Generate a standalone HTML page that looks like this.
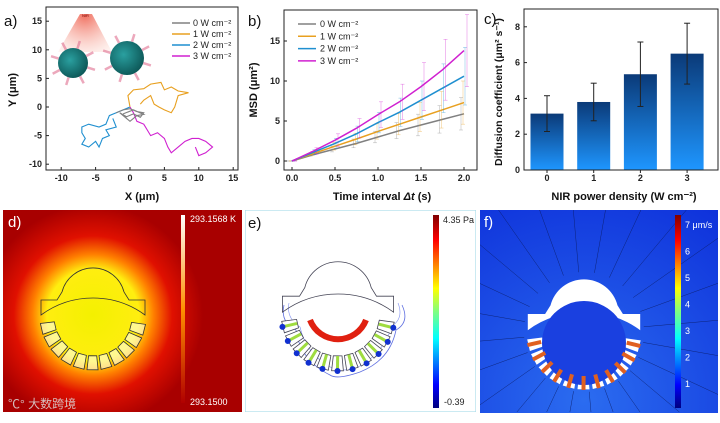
<!DOCTYPE html>
<html><head><meta charset="utf-8"><style>
html,body{margin:0;background:#fff;width:720px;height:423px;overflow:hidden}
svg{display:block;overflow:hidden;font-family:"Liberation Sans","Noto Sans CJK SC",sans-serif}
.tk{font-size:9px;font-weight:bold;fill:#222}
.al{font-size:11px;font-weight:bold;fill:#111}
.pl{font-size:15px;fill:#111}
.lg{font-size:9px;fill:#222}
</style></head><body>
<svg id="fig" width="720" height="423" viewBox="0 0 720 423">
<defs>
<clipPath id="clipD"><rect x="3" y="210" width="239" height="202"/></clipPath>
<clipPath id="clipE"><rect x="245" y="210" width="231" height="202"/></clipPath>
<clipPath id="clipF"><rect x="480" y="210" width="238" height="203"/></clipPath>
<linearGradient id="barg" x1="0" y1="0" x2="0" y2="1"><stop offset="0" stop-color="#0b3a78"/><stop offset="1" stop-color="#1e96ff"/></linearGradient>
<radialGradient id="heat" cx="93" cy="315" r="110" gradientUnits="userSpaceOnUse"><stop offset="0" stop-color="#f4f000"/><stop offset="0.42" stop-color="#ffee10"/><stop offset="0.55" stop-color="#ff8000"/><stop offset="0.72" stop-color="#e01000"/><stop offset="1" stop-color="#a80000"/></radialGradient>
<linearGradient id="tbar" x1="0" y1="1" x2="0" y2="0"><stop offset="0" stop-color="#b00000"/><stop offset="0.5" stop-color="#ff9000"/><stop offset="1" stop-color="#ffffff"/></linearGradient>
<linearGradient id="jet" x1="0" y1="1" x2="0" y2="0"><stop offset="0" stop-color="#00007f"/><stop offset="0.12" stop-color="#0000ff"/><stop offset="0.36" stop-color="#00ffff"/><stop offset="0.5" stop-color="#80ff80"/><stop offset="0.62" stop-color="#ffff00"/><stop offset="0.87" stop-color="#ff0000"/><stop offset="1" stop-color="#7f0000"/></linearGradient>
<radialGradient id="fbg" cx="584" cy="400" r="260" gradientUnits="userSpaceOnUse"><stop offset="0" stop-color="#2b6cf0"/><stop offset="1" stop-color="#0b2ad8"/></radialGradient>
<radialGradient id="cone" cx="85" cy="15" r="45" gradientUnits="userSpaceOnUse"><stop offset="0" stop-color="#f07060"/><stop offset="1" stop-color="#fde0d8" stop-opacity="0.3"/></radialGradient>
<radialGradient id="ball" cx="0.4" cy="0.4" r="0.7"><stop offset="0" stop-color="#2aa0a0"/><stop offset="1" stop-color="#0a5050"/></radialGradient>
</defs>
<g id="pa"></g>
<g id="pb"></g>
<g id="pc"></g>
<g id="pd" clip-path="url(#clipD)"></g>
<g id="pe" clip-path="url(#clipE)"></g>
<g id="pf" clip-path="url(#clipF)"></g>
</svg>
<script>
// ---- data ----
const trajNames=['0 W cm⁻²','1 W cm⁻²','2 W cm⁻²','3 W cm⁻²'];
const trajColors=['#808080','#e8a020','#1f8fd0','#d020d0'];
const traj0X=[-2,-1,0,1,2,1.5,0.5,-0.5,-1.5,0,1,2,0.5,-1];
const traj0Y=[-1,-0.5,-0.3,-0.8,-1,-1.8,-1.2,-1.7,-1,-2.5,-1.5,-1.3,-0.5,-1.2];
const traj1X=[0,-0.3,0.5,2,3,4.5,5,6,7,8.5,7,6.5,6,5,4.2,3.5,3,2,1.5];
const traj1Y=[0,2,3,3.2,4,4.3,3,3.5,2.8,2.5,2,0,-1,-0.5,0,0.5,2,1.2,0.5];
const traj2X=[0,-1,-2,-3,-3.5,-4.5,-6,-7,-7,-6.5,-7,-6,-5,-4.5,-4,-3,-3.5,-2,-2.5];
const traj2Y=[0,-0.5,-1,-1.5,-3,-3.5,-3,-3.5,-4.5,-5.5,-6.5,-7,-6,-7,-5.5,-5,-4,-3.5,-2];
const traj3X=[0,0.5,1,2,2.5,3,4,5,5.5,6,7,8,9,10,11,12,11,10,9.5];
const traj3Y=[0,-1,-2.5,-3,-4,-5,-4.5,-5.5,-7,-8,-7,-6,-5.5,-5.5,-6,-7,-8,-8.5,-7];
const aXTicks=[-10,-5,0,5,10,15];
const aYTicks=[-10,-5,0,5,10,15];

const msdT=[0,0.25,0.5,0.75,1,1.25,1.5,1.75,2];
const msd0=[0,0.8,1.5,2.2,3.0,3.8,4.5,5.2,5.9];
const msd1=[0,0.95,1.85,2.75,3.7,4.6,5.5,6.4,7.3];
const msd2=[0,1.1,2.2,3.4,4.8,6.1,7.6,9.1,10.6];
const msd3=[0,1.25,2.6,4.1,5.8,7.4,9.3,11.4,13.8];
const msdErr=[0,0.4,0.8,1.2,1.6,2.2,3.0,3.8,4.5];
const bXTicks=[0,0.5,1.0,1.5,2.0];
const bYTicks=[0,5,10,15];

const cCats=['0','1','2','3'];
const cVals=[3.15,3.8,5.35,6.5];
const cErr=[1.0,1.05,1.8,1.7];
const cYTicks=[0,2,4,6,8];

const NS='http://www.w3.org/2000/svg';
function el(p,t,a,txt){const e=document.createElementNS(NS,t);for(const k in a)e.setAttribute(k,a[k]);if(txt!==undefined)e.textContent=txt;p.appendChild(e);return e;}

// ---- panel a ----
(function(){
const g=document.getElementById('pa');
const X=v=>130+v*6.88, Y=v=>107-v*5.72;
el(g,'text',{x:4,y:26,class:'pl'},'a)');
el(g,'path',{d:'M80,14 L92,14 L112,52 L58,52 Z',fill:'url(#cone)'});
el(g,'text',{x:82,y:17,style:'font-size:4px;fill:#700'},'NIR');
[[73,63,15],[127,58,17]].forEach(([cx,cy,r],i)=>{
 for(let k=0;k<8;k++){const a=k*Math.PI/4+0.3;el(g,'line',{x1:cx+Math.cos(a)*r,y1:cy+Math.sin(a)*r,x2:cx+Math.cos(a)*(r+8),y2:cy+Math.sin(a)*(r+8),stroke:'#e07090','stroke-width':2.5,opacity:0.6});}
 const c=el(g,'circle',{cx,cy,r,fill:'url(#ball)'});
 
 
});
const xs=[traj0X,traj1X,traj2X,traj3X], ys=[traj0Y,traj1Y,traj2Y,traj3Y];
[1,2,3,0].forEach(s=>{
 const p=el(g,'polyline',{points:xs[s].map((x,i)=>X(x)+','+Y(ys[s][i])).join(' '),fill:'none',stroke:trajColors[s],'stroke-width':1.1});
 
 
});
el(g,'rect',{x:46,y:7,width:192,height:163,fill:'none',stroke:'#222','stroke-width':1});
aXTicks.forEach(v=>{el(g,'line',{x1:X(v),x2:X(v),y1:170,y2:167,stroke:'#222'});const t=el(g,'text',{x:X(v),y:181,class:'tk','text-anchor':'middle'},v);});
aYTicks.forEach(v=>{el(g,'line',{x1:46,x2:49,y1:Y(v),y2:Y(v),stroke:'#222'});const t=el(g,'text',{x:42,y:Y(v)+3,class:'tk','text-anchor':'end'},v);});
el(g,'text',{x:142,y:200,class:'al','text-anchor':'middle'},'X (μm)');
el(g,'text',{x:16,y:90,class:'al','text-anchor':'middle',transform:'rotate(-90 16 90)'},'Y (μm)');
trajNames.forEach((n,i)=>{const y=23+i*11;el(g,'line',{x1:172,x2:190,y1:y,y2:y,stroke:trajColors[i],'stroke-width':1.5});const t=el(g,'text',{x:193,y:y+3,class:'lg'},n);});
})();

// ---- panel b ----
(function(){
const g=document.getElementById('pb');
const X=v=>292+v*86, Y=v=>161-v*8;
el(g,'text',{x:248,y:26,class:'pl'},'b)');
const series=[msd0,msd1,msd2,msd3];
const scale=[0.45,0.6,0.8,1];
series.forEach((s,k)=>{
 msdT.forEach((t,i)=>{const e=msdErr[i]*scale[k];const x=X(t)+(k-1.5)*2;
  el(g,'line',{x1:x,x2:x,y1:Y(s[i]-e),y2:Y(s[i]+e),stroke:trajColors[k],'stroke-width':0.6,opacity:0.5});
  el(g,'line',{x1:x-2,x2:x+2,y1:Y(s[i]+e),y2:Y(s[i]+e),stroke:trajColors[k],'stroke-width':0.6,opacity:0.5});
  el(g,'line',{x1:x-2,x2:x+2,y1:Y(s[i]-e),y2:Y(s[i]-e),stroke:trajColors[k],'stroke-width':0.6,opacity:0.5});
 });
 const p=el(g,'polyline',{points:msdT.map((t,i)=>X(t)+','+Y(s[i])).join(' '),fill:'none',stroke:trajColors[k],'stroke-width':1.5});
 
 
});
el(g,'rect',{x:284,y:10,width:193,height:160,fill:'none',stroke:'#222'});
bXTicks.forEach(v=>{el(g,'line',{x1:X(v),x2:X(v),y1:170,y2:167,stroke:'#222'});const t=el(g,'text',{x:X(v),y:181,class:'tk','text-anchor':'middle'},v.toFixed(1));});
bYTicks.forEach(v=>{el(g,'line',{x1:284,x2:287,y1:Y(v),y2:Y(v),stroke:'#222'});const t=el(g,'text',{x:280,y:Y(v)+3,class:'tk','text-anchor':'end'},v);});
const xt=el(g,'text',{x:382,y:200,class:'al','text-anchor':'middle'});xt.innerHTML='Time interval <tspan font-style="italic">Δt</tspan> (s)';
el(g,'text',{x:257,y:90,class:'al','text-anchor':'middle',transform:'rotate(-90 257 90)'},'MSD (μm²)');
trajNames.forEach((n,i)=>{const y=24+i*12.3;el(g,'line',{x1:298,x2:316,y1:y,y2:y,stroke:trajColors[i],'stroke-width':1.5});const t=el(g,'text',{x:320,y:y+3,class:'lg'},n);});
})();

// ---- panel c ----
(function(){
const g=document.getElementById('pc');
const X=i=>547+i*46.7, Y=v=>170-v*17.9;
el(g,'text',{x:484,y:24,class:'pl'},'c)');
cVals.forEach((v,i)=>{
 const r=el(g,'rect',{x:X(i)-16.5,y:Y(v),width:33,height:170-Y(v),fill:'url(#barg)'});
 
 
 const x=X(i);
 el(g,'line',{x1:x,x2:x,y1:Y(v-cErr[i]),y2:Y(v+cErr[i]),stroke:'#222','stroke-width':1});
 el(g,'line',{x1:x-3,x2:x+3,y1:Y(v+cErr[i]),y2:Y(v+cErr[i]),stroke:'#222'});
 el(g,'line',{x1:x-3,x2:x+3,y1:Y(v-cErr[i]),y2:Y(v-cErr[i]),stroke:'#222'});
 el(g,'line',{x1:x,x2:x,y1:170,y2:173,stroke:'#222'});
 const t=el(g,'text',{x,y:181,class:'tk','text-anchor':'middle'},cCats[i]);
});
el(g,'rect',{x:524,y:9,width:194,height:161,fill:'none',stroke:'#222'});
cYTicks.forEach(v=>{el(g,'line',{x1:524,x2:527,y1:Y(v),y2:Y(v),stroke:'#222'});const t=el(g,'text',{x:520,y:Y(v)+3,class:'tk','text-anchor':'end'},v);});
el(g,'text',{x:624,y:200,class:'al','text-anchor':'middle'},'NIR power density (W cm⁻²)');
el(g,'text',{x:502,y:92,class:'al','text-anchor':'middle',style:'font-size:10.5px',transform:'rotate(-90 502 92)'},'Diffusion coefficient (μm² s⁻¹)');
})();

// ---- structure shape ----
function structure(g,cx,cy,s,stroke,fill,segFill){
 const P=(x,y)=>(cx+x*s).toFixed(1)+','+(cy+y*s).toFixed(1);
 const cap=el(g,'path',{d:`M${P(-52,3)} L${P(-52,-12)} L${P(-36,-12)} L${P(-31,-20)} A${32*s} ${32*s} 0 0 1 ${P(31,-20)} L${P(36,-12)} L${P(52,-12)} L${P(52,3)} A${88*s} ${88*s} 0 0 0 ${P(-52,3)} Z`,fill,stroke,'stroke-width':0.8});
 
 for(let k=0;k<11;k++){
  const a0=(8+k*15.3)*Math.PI/180, a1=a0+12*Math.PI/180;
  const r0=39,r1=53;
  const pts=[[r0,a0],[r1,a0],[r1,a1],[r0,a1]].map(([r,a])=>P(Math.cos(a)*r,Math.sin(a)*r+5));
  const seg=el(g,'polygon',{points:pts.join(' '),fill:segFill,stroke,'stroke-width':0.8});
  
 }
}

// ---- panel d ----
(function(){
const g=document.getElementById('pd');
el(g,'rect',{x:3,y:210,width:239,height:202,fill:'url(#heat)'});
structure(g,93,312,1,'#333','none','rgba(255,255,230,0.6)');
el(g,'rect',{x:181,y:215,width:4,height:188,fill:'url(#tbar)'});
el(g,'text',{x:190,y:222,style:'font-size:9px;fill:#fff'},'293.1568 K');
el(g,'text',{x:190,y:405,style:'font-size:9px;fill:#fff'},'293.1500');
el(g,'text',{x:8,y:227,class:'pl',style:'fill:#fff'},'d)');
el(g,'text',{x:8,y:408,style:'font-size:12px;fill:#ddd;opacity:0.85'},'℃° 大数跨境');
})();

// ---- panel e ----
(function(){
const g=document.getElementById('pe');
el(g,'rect',{x:245,y:210,width:231,height:202,fill:'#fff',stroke:'#a8dce8','stroke-width':1.2});
el(g,'path',{d:'M284,305 Q280,322 296,330 Q300,360 330,375 Q337,380 360,372 Q390,360 396,330 Q410,322 402,305',fill:'none',stroke:'#6070e0','stroke-width':0.8});
el(g,'path',{d:'M289,303 Q286,318 300,327 Q306,354 332,368 Q344,373 360,366 Q384,352 392,326 Q404,318 398,303',fill:'none',stroke:'#8090f0','stroke-width':0.6});
structure(g,338,309,1.07,'#445','none','#ffffff');
el(g,'path',{d:'M310,320 A30 30 0 0 0 366,320',fill:'none',stroke:'#e02010','stroke-width':6});
for(let k=0;k<11;k++){const a=(14+k*15.3)*Math.PI/180;const x1=338+Math.cos(a)*42,y1=314+Math.sin(a)*42,x2=338+Math.cos(a)*57,y2=314+Math.sin(a)*57;
 el(g,'line',{x1,y1,x2,y2,stroke:'#9fdc40','stroke-width':3});el(g,'circle',{cx:x2,cy:y2,r:3,fill:'#1030d0'});}
el(g,'rect',{x:433,y:215,width:6,height:193,fill:'url(#jet)'});
el(g,'text',{x:443,y:223,style:'font-size:9px;fill:#222'},'4.35 Pa');
el(g,'text',{x:444,y:405,style:'font-size:9px;fill:#222'},'-0.39');
el(g,'text',{x:248,y:228,class:'pl'},'e)');
})();

// ---- panel f ----
(function(){
const g=document.getElementById('pf');
el(g,'rect',{x:480,y:210,width:238,height:203,fill:'url(#fbg)'});
const L=480,R=718,T=210,B=412,cx=584,cy=332;
for(let k=0;k<24;k++){const a=(-170+k*15)*Math.PI/180;const dx=Math.cos(a),dy=Math.sin(a);
 let t=1e9;
 if(dx>1e-6)t=Math.min(t,(R-cx)/dx); if(dx<-1e-6)t=Math.min(t,(L-cx)/dx);
 if(dy>1e-6)t=Math.min(t,(B-cy)/dy); if(dy<-1e-6)t=Math.min(t,(T-cy)/dy);
 el(g,'line',{x1:cx+dx*60,y1:cy+dy*60,x2:cx+dx*t,y2:cy+dy*t,stroke:'#0a1a60','stroke-width':0.5,opacity:0.8});}
structure(g,584,327,1.08,'none','#ffffff','#ffffff');
el(g,'circle',{cx:584,cy:343,r:42,fill:'#1a40e0'});
for(let k=0;k<11;k++){const a=(14+k*15.3)*Math.PI/180;
 el(g,'line',{x1:584+Math.cos(a)*44,y1:332+Math.sin(a)*44,x2:584+Math.cos(a)*58,y2:332+Math.sin(a)*58,stroke:'#e06020','stroke-width':4});}
el(g,'rect',{x:675,y:215,width:6,height:193,fill:'url(#jet)'});
const fT=['7 μm/s','6','5','4','3','2','1'];
fT.forEach((t,i)=>el(g,'text',{x:685,y:228+i*26.5,style:'font-size:9px;fill:#fff'},t));
el(g,'text',{x:484,y:227,class:'pl',style:'fill:#fff'},'f)');
})();
</script>
</body></html>
